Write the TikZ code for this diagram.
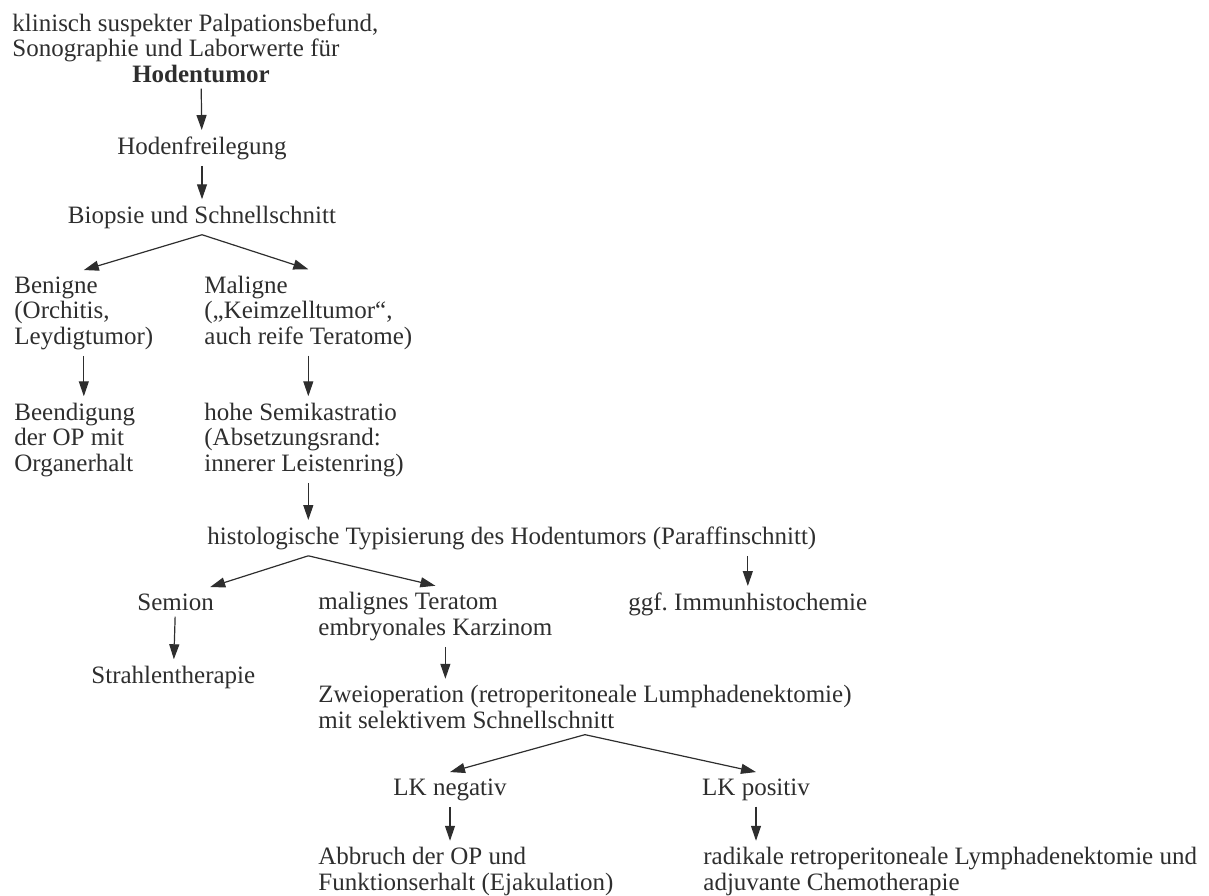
\documentclass[tikz,border=0pt]{standalone}
\usepackage{fontspec}
\setmainfont{Liberation Serif}
\usetikzlibrary{arrows.meta}
\definecolor{ink}{HTML}{2E2E2E}
\tikzstyle{txt} = [inner sep=3pt, align=left, anchor=base west, text=ink, font=\fontsize{12.5}{12.75}\selectfont\frenchspacing]
\tikzstyle{mid} = [txt, anchor=base, align=center]
\tikzstyle{pfeil} = [draw=ink, line width=0.6pt, -{Triangle[length=7.5pt, width=5pt]}]

\begin{document}
\begin{tikzpicture}[x=0.5pt, y=-0.5pt]
    \useasboundingbox (0,0) rectangle (1209,895);
    % multi-line nodes sit on the baseline of their last line
    \node (bef) [txt] at (6,56.5) {klinisch suspekter Palpationsbefund,\\Sonographie und Laborwerte für};
    \node (hod) [mid] at (201,82) {\textbf{Hodentumor}};
    \node (frei) [mid] at (202,154) {Hodenfreilegung};
    \node (bio) [mid] at (202,223) {Biopsie und Schnellschnitt};
    \node (ben) [txt] at (8,344) {Benigne\\(Orchitis,\\Leydigtumor)};
    \node (mal) [txt] at (198,344) {Maligne\\(„Keimzelltumor“,\\auch reife Teratome)};
    \node (org) [txt] at (8,471) {Beendigung\\der OP mit\\Organerhalt};
    \node (semi) [txt] at (198,471) {hohe Semikastratio\\(Absetzungsrand:\\innerer Leistenring)};
    \node (histo) [txt] at (201,544) {histologische Typisierung des Hodentumors (Paraffinschnitt)};
    \node (sem) [txt] at (131,610) {Semion};
    \node (ter) [txt] at (312,635) {malignes Teratom\\embryonales Karzinom};
    \node (ihc) [txt] at (622,610) {ggf. Immunhistochemie};
    \node (strahl) [txt] at (85,683) {Strahlentherapie};
    \node (zwei) [txt] at (312,728) {Zweioperation (retroperitoneale Lumphadenektomie)\\mit selektivem Schnellschnitt};
    \node (neg) [mid] at (450,795) {LK negativ};
    \node (pos) [mid] at (756,795) {LK positiv};
    \node (abb) [txt] at (312,890) {Abbruch der OP und\\Funktionserhalt (Ejakulation)};
    \node (rad) [txt] at (697,890) {radikale retroperitoneale Lymphadenektomie und\\adjuvante Chemotherapie};
    \draw [pfeil] (hod) -- (frei);
    \draw [pfeil] (frei) -- (bio);
    \draw [pfeil] (bio.south) -- (ben.north);
    \draw [pfeil] (bio.south) -- (mal.north);
    \draw [pfeil] (ben.south) -- (ben.south |- org.north);
    \draw [pfeil] (mal.south) -- (mal.south |- semi.north);
    \draw [pfeil] (semi.south -| mal.south) -- (mal.south |- histo.north);
    \draw [pfeil] (histo.south -| mal.south) -- ([xshift=-5pt]sem.north east);
    \draw [pfeil] (histo.south -| mal.south) -- (ter.north);
    \draw [pfeil] (histo.south -| ihc.north) -- (ihc.north);
    \draw [pfeil] (sem) -- (strahl);
    \draw [pfeil] ([xshift=5pt]ter.south) -- ([xshift=5pt]ter.south |- zwei.north);
    \draw [pfeil] (zwei.south) -- (neg.north);
    \draw [pfeil] (zwei.south) -- (pos.north);
    \draw [pfeil] (neg.south) -- (neg.south |- abb.north);
    \draw [pfeil] (pos.south) -- (pos.south |- rad.north);
\end{tikzpicture}
\end{document}
